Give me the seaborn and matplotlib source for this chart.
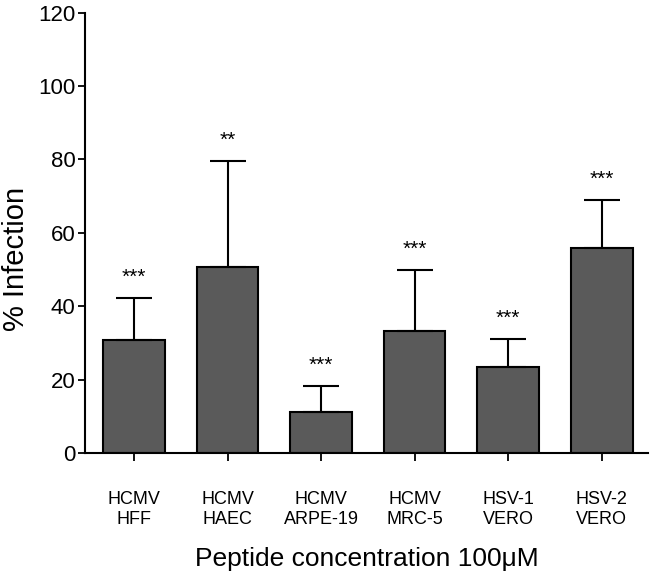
import matplotlib
matplotlib.use("Agg")
import matplotlib.pyplot as plt
import seaborn as sns
import numpy as np
import pandas as pd

categories = ["HCMV\nHFF", "HCMV\nHAEC", "HCMV\nARPE-19", "HCMV\nMRC-5", "HSV-1\nVERO", "HSV-2\nVERO"]
means = [30.8, 50.8, 11.1, 33.2, 23.5, 55.8]
upper = [42.2, 79.6, 18.3, 49.9, 31.1, 68.9]
signif = ["***", "**", "***", "***", "***", "***"]
yticks = [0, 20, 40, 60, 80, 100, 120]

sns.set_style("ticks")
plt.rcParams["font.family"] = ["Liberation Sans", "DejaVu Sans"]
plt.rcParams["text.color"] = "black"
plt.rcParams["axes.labelcolor"] = "black"
plt.rcParams["xtick.color"] = "black"
plt.rcParams["ytick.color"] = "black"
plt.rcParams["axes.edgecolor"] = "black"

fig = plt.figure(figsize=(6.51, 5.84), dpi=100)
ax = fig.add_axes([85 / 651, (584 - 453) / 584, (648 - 85) / 651, (453 - 12.7) / 584])

df = pd.DataFrame({"cat": categories, "val": means})
sns.barplot(data=df, x="cat", y="val", color="#5a5a5a", saturation=1, width=0.66,
            edgecolor="black", linewidth=1.5, errorbar=None, ax=ax)

err = np.array(upper) - np.array(means)
ax.errorbar(np.arange(len(means)), means, yerr=[np.zeros_like(err), err], fmt="none",
            ecolor="black", elinewidth=1.5, capsize=13, capthick=1.5, zorder=1)

for i, (u, s) in enumerate(zip(upper, signif)):
    ax.text(i, u + 4.2, s, ha="center", va="baseline", fontsize=15, color="black")

ax.set_ylim(0, 120)
ax.set_xlim(-0.524, 5.495)
ax.set_yticks(yticks)
ax.set_yticklabels([str(t) for t in yticks], fontsize=16)
ax.tick_params(axis="y", length=5, width=1.3, pad=2)
ax.tick_params(axis="x", length=6, width=1.3, pad=21, labelsize=13)
for lab in ax.get_xticklabels():
    lab.set_linespacing(1.25)

ax.set_ylabel("% Infection", fontsize=21)
ax.yaxis.set_label_coords(-0.098, 0.44)
ax.set_xlabel("Peptide concentration 100\u03bcM", fontsize=19, labelpad=14)

sns.despine(ax=ax)
for sp in ["left", "bottom"]:
    ax.spines[sp].set_linewidth(1.5)

fig.savefig("out.png", dpi=100)
